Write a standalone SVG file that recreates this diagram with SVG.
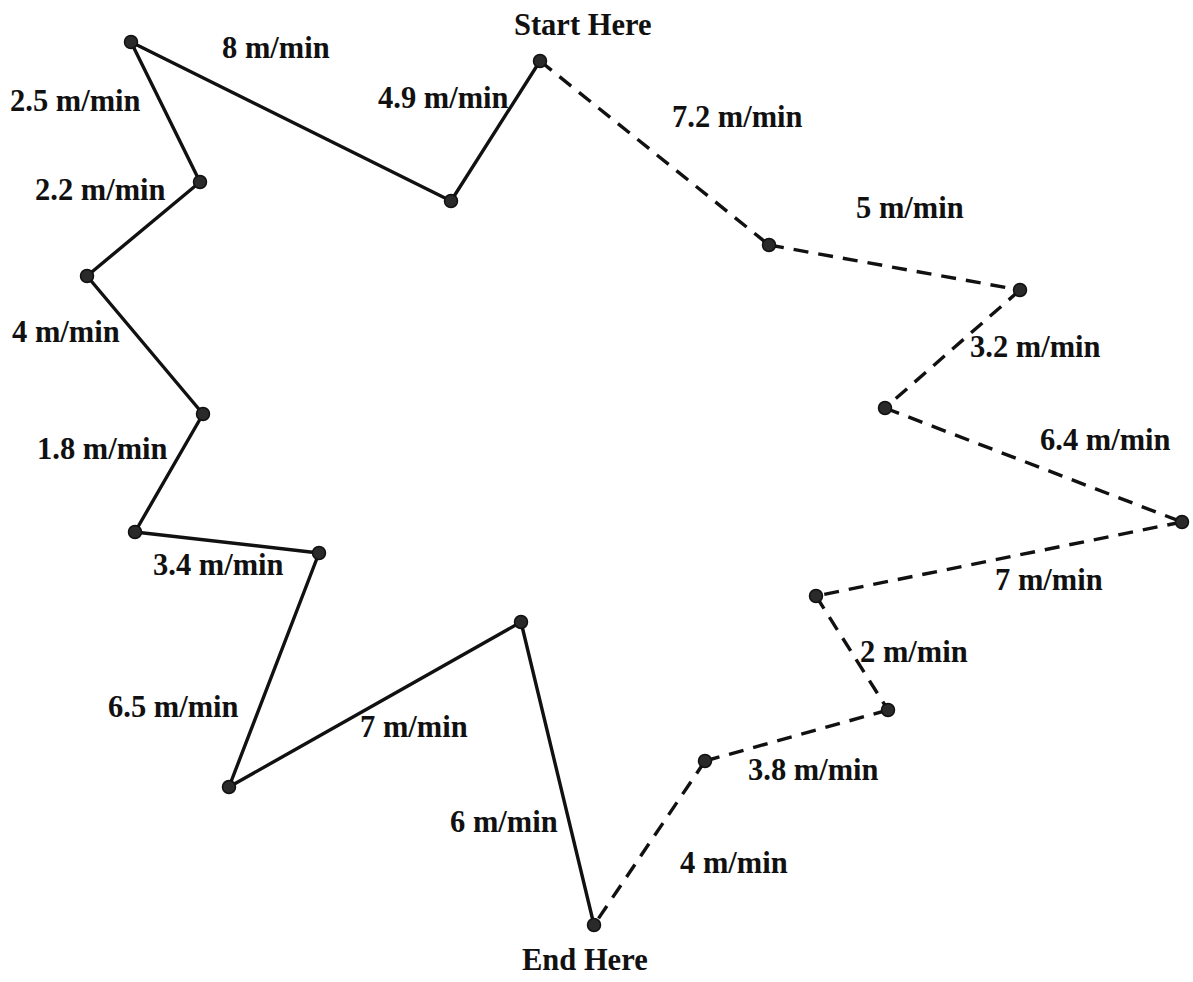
<svg xmlns="http://www.w3.org/2000/svg" width="1193" height="982" viewBox="0 0 1193 982">
<style>
.solid{fill:none;stroke:#111;stroke-width:3.4;stroke-linejoin:round}
.dash{fill:none;stroke:#111;stroke-width:3.4;stroke-dasharray:15 10}
.dot{fill:#2a2a2a;stroke:#111;stroke-width:1.5}
text{font-family:"Liberation Serif","Times New Roman",serif;font-weight:bold;font-size:30.5px;fill:#111}
</style>
<rect width="1193" height="982" fill="#fff"/>
<g id="connectors">
<polyline class="solid" points="540,61 451,201 131,42 200,182 87,276 203,414 135,532 319,553 229,787 521,622 594,925"/>
<line class="dash" x1="540" y1="61" x2="769" y2="245"/>
<line class="dash" x1="769" y1="245" x2="1020" y2="290"/>
<line class="dash" x1="1020" y1="290" x2="885" y2="408"/>
<line class="dash" x1="885" y1="408" x2="1182" y2="522"/>
<line class="dash" x1="1182" y1="522" x2="816" y2="596"/>
<line class="dash" x1="816" y1="596" x2="888" y2="710"/>
<line class="dash" x1="888" y1="710" x2="705" y2="761"/>
<line class="dash" x1="705" y1="761" x2="594" y2="925"/>
</g>
<g id="start"><circle class="dot" cx="540" cy="61" r="6.5"/><text x="514" y="35">Start Here</text></g>
<g id="n1"><circle class="dot" cx="451" cy="201" r="6.5"/></g>
<g id="n2"><circle class="dot" cx="131" cy="42" r="6.5"/></g>
<g id="n3"><circle class="dot" cx="200" cy="182" r="6.5"/></g>
<g id="n4"><circle class="dot" cx="87" cy="276" r="6.5"/></g>
<g id="n5"><circle class="dot" cx="203" cy="414" r="6.5"/></g>
<g id="n6"><circle class="dot" cx="135" cy="532" r="6.5"/></g>
<g id="n7"><circle class="dot" cx="319" cy="553" r="6.5"/></g>
<g id="n8"><circle class="dot" cx="229" cy="787" r="6.5"/></g>
<g id="n9"><circle class="dot" cx="521" cy="622" r="6.5"/></g>
<g id="end"><circle class="dot" cx="594" cy="925" r="6.5"/><text x="522" y="970">End Here</text></g>
<g id="d1"><circle class="dot" cx="769" cy="245" r="6.5"/></g>
<g id="d2"><circle class="dot" cx="1020" cy="290" r="6.5"/></g>
<g id="d3"><circle class="dot" cx="885" cy="408" r="6.5"/></g>
<g id="d4"><circle class="dot" cx="1182" cy="522" r="6.5"/></g>
<g id="d5"><circle class="dot" cx="816" cy="596" r="6.5"/></g>
<g id="d6"><circle class="dot" cx="888" cy="710" r="6.5"/></g>
<g id="d7"><circle class="dot" cx="705" cy="761" r="6.5"/></g>
<g id="labels">
<text x="222" y="58">8 m/min</text>
<text x="10" y="111">2.5 m/min</text>
<text x="378" y="108">4.9 m/min</text>
<text x="672" y="127">7.2 m/min</text>
<text x="35" y="200">2.2 m/min</text>
<text x="856" y="218">5 m/min</text>
<text x="12" y="342">4 m/min</text>
<text x="970" y="357">3.2 m/min</text>
<text x="37" y="459">1.8 m/min</text>
<text x="1040" y="450">6.4 m/min</text>
<text x="153" y="575">3.4 m/min</text>
<text x="995" y="590">7 m/min</text>
<text x="860" y="662">2 m/min</text>
<text x="108" y="717">6.5 m/min</text>
<text x="360" y="737">7 m/min</text>
<text x="748" y="780">3.8 m/min</text>
<text x="450" y="832">6 m/min</text>
<text x="680" y="873">4 m/min</text>
</g>
</svg>
